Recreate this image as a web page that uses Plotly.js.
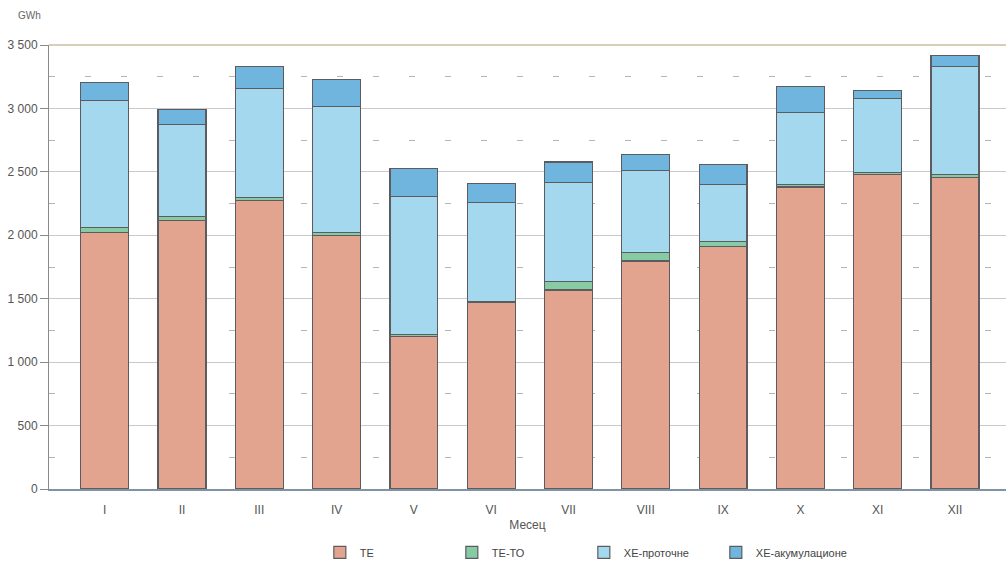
<!DOCTYPE html>
<html>
<head>
<meta charset="utf-8">
<script src="https://cdn.plot.ly/plotly-3.0.1.min.js"></script>
<style>html,body{margin:0;padding:0;background:#fff}#chart{width:1006px;height:571px}</style>
</head>
<body>
<div id="chart"></div>
<script>
const months = ["I","II","III","IV","V","VI","VII","VIII","IX","X","XI","XII"];
const te        = [2023, 2117, 2275, 1996, 1200, 1470, 1568, 1797, 1909, 2380, 2480, 2456];
const teTo      = [36, 34, 21, 27, 19, 5, 66, 68, 40, 23, 16, 24];
const xeProton  = [1006, 725, 864, 995, 1087, 785, 783, 643, 452, 565, 583, 851];
const xeAkum    = [142, 118, 168, 213, 221, 150, 160, 129, 158, 208, 60, 89];
const seriesNames = ["ТЕ", "ТЕ-ТО", "ХЕ-проточне", "ХЕ-акумулационе"];
const yTickVals = [0, 500, 1000, 1500, 2000, 2500, 3000, 3500];

const colors = ["#e3a48f", "#86cba3", "#a3d8ee", "#6fb5de"];
const lineCol = "#5b5b60";
const data = [te, teTo, xeProton, xeAkum].map((vals, i) => ({
  type: "bar",
  name: seriesNames[i],
  x: months,
  y: vals,
  width: 0.62,
  marker: {color: colors[i], line: {color: lineCol, width: 1.2}},
  hoverinfo: "x+y+name"
}));

const layout = {
  width: 1006, height: 571,
  barmode: "stack",
  separators: ", ",
  paper_bgcolor: "#fff",
  plot_bgcolor: "#fff",
  font: {family: "Liberation Sans, Arial, sans-serif", size: 11, color: "#555"},
  margin: {l: 49, r: 0, t: 45, b: 82, autoexpand: false},
  showlegend: true,
  legend: {
    orientation: "h", x: 0.283, xanchor: "left", y: -0.11, yanchor: "top",
    entrywidth: 87, font: {size: 11, color: "#444"}, traceorder: "normal"
  },
  xaxis: {
    type: "category",
    range: [-0.72, 11.66],
    showgrid: false,
    showline: true, linecolor: "#7f93a3", linewidth: 1.5,
    ticks: "outside", ticklen: 9, tickcolor: "rgba(0,0,0,0)",
    tickfont: {size: 12, color: "#555"},
    title: {text: "Месец", font: {size: 12, color: "#555"}, standoff: 4},
    automargin: false,
    fixedrange: true
  },
  yaxis: {
    range: [0, 3500],
    tickvals: yTickVals,
    tickformat: ",d",
    showline: true, linecolor: "#8a8a8a", linewidth: 1,
    ticks: "outside", ticklen: 8, tickcolor: "#8a8a8a",
    showgrid: true, gridcolor: "#c9c9c9", gridwidth: 1,
    minor: {dtick: 250, showgrid: true, gridcolor: "#b5b5b5", griddash: "6px,30px", gridwidth: 1},
    zeroline: false,
    tickfont: {size: 12, color: "#555"},
    automargin: false,
    fixedrange: true
  },
  shapes: [{
    type: "line", xref: "paper", yref: "paper", x0: 0, x1: 1, y0: 1, y1: 1,
    line: {color: "#c8c0a0", width: 1.5}
  }],
  annotations: [{
    text: "GWh", xref: "paper", yref: "paper", x: -0.035, y: 1.0, yshift: 30,
    xanchor: "left", yanchor: "middle", showarrow: false,
    font: {size: 10, color: "#666"}
  }]
};

Plotly.newPlot("chart", data, layout, {displayModeBar: false, staticPlot: true});
</script>
</body>
</html>
